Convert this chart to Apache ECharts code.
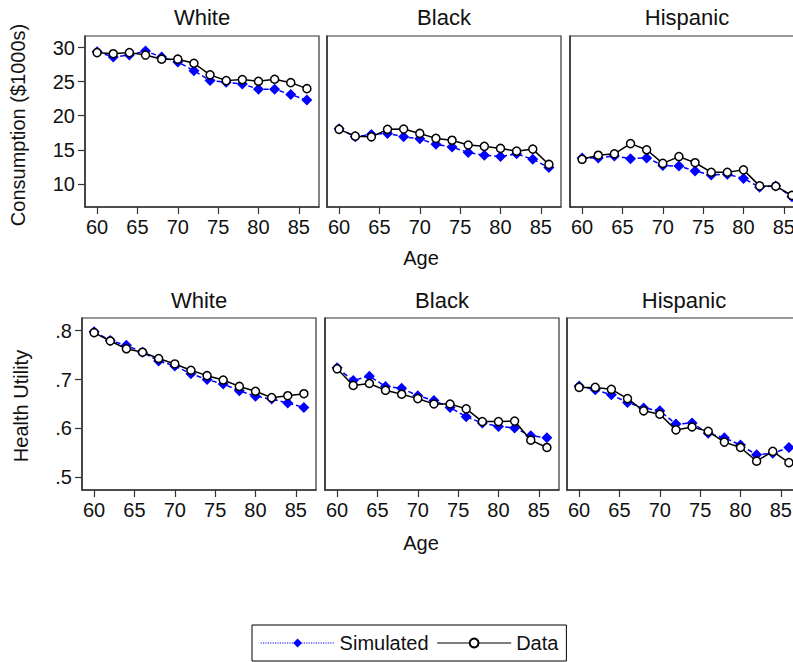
<!DOCTYPE html>
<html>
<head>
<meta charset="utf-8">
<script src="https://cdn.jsdelivr.net/npm/echarts@6/dist/echarts.min.js"></script>
<style>
html, body { margin: 0; padding: 0; background: #fff; }
#chart { width: 793px; height: 662px; }
</style>
</head>
<body>
<div id="chart"></div>
<script>
// ages on the x axis
var ages = [60, 62, 64, 66, 68, 70, 72, 74, 76, 78, 80, 82, 84, 86];
var xTicks = [60, 65, 70, 75, 80, 85];
var consTicks = [10, 15, 20, 25, 30];
var utilTicks = [0.5, 0.6, 0.7, 0.8];

// consumption ($1000s)
var whiteConsSim  = [29.4, 28.6, 28.9, 29.5, 28.6, 27.9, 26.6, 25.15, 24.9, 24.65, 23.9, 23.9, 23.1, 22.3];
var whiteConsData = [29.26, 29.1, 29.26, 28.9, 28.3, 28.3, 27.7, 26.0, 25.15, 25.3, 25.05, 25.35, 24.85, 23.97];
var blackConsSim  = [18.1, 16.9, 17.25, 17.4, 16.9, 16.6, 15.8, 15.4, 14.6, 14.2, 14.0, 14.4, 13.6, 12.4];
var blackConsData = [18.0, 17.0, 16.9, 18.0, 18.04, 17.4, 16.67, 16.4, 15.7, 15.5, 15.2, 14.8, 15.1, 12.85];
var hispConsSim   = [13.8, 13.8, 14.1, 13.7, 13.8, 12.7, 12.6, 11.9, 11.3, 11.4, 10.8, 9.5, 9.7, 8.1];
var hispConsData  = [13.6, 14.2, 14.4, 15.9, 15.0, 13.0, 14.0, 13.1, 11.7, 11.7, 12.05, 9.7, 9.65, 8.3];

// health utility
var whiteUtilSim  = [0.798, 0.780, 0.770, 0.756, 0.738, 0.728, 0.712, 0.700, 0.691, 0.677, 0.666, 0.660, 0.652, 0.643];
var whiteUtilData = [0.796, 0.779, 0.763, 0.756, 0.743, 0.732, 0.719, 0.708, 0.699, 0.686, 0.676, 0.663, 0.667, 0.671];
var blackUtilSim  = [0.724, 0.698, 0.707, 0.686, 0.682, 0.667, 0.657, 0.643, 0.624, 0.611, 0.604, 0.601, 0.585, 0.581];
var blackUtilData = [0.722, 0.688, 0.692, 0.678, 0.670, 0.661, 0.650, 0.650, 0.640, 0.614, 0.614, 0.615, 0.576, 0.561];
var hispUtilSim   = [0.687, 0.679, 0.669, 0.653, 0.642, 0.636, 0.609, 0.611, 0.590, 0.581, 0.566, 0.546, 0.549, 0.561];
var hispUtilData  = [0.684, 0.684, 0.680, 0.661, 0.636, 0.629, 0.597, 0.603, 0.594, 0.572, 0.561, 0.533, 0.553, 0.530];

var FONT = "'Liberation Sans', Arial, sans-serif";
var W = 793;

// panel boxes (pixels); the last column runs past the right edge
var panels = [
    { left: 85,  top: 36,  w: 234, h: 171, title: 'White',    sim: whiteConsSim, dat: whiteConsData, row: 0, first: true },
    { left: 327, top: 36,  w: 234, h: 171, title: 'Black',    sim: blackConsSim, dat: blackConsData, row: 0 },
    { left: 570, top: 36,  w: 234, h: 171, title: 'Hispanic', sim: hispConsSim,  dat: hispConsData,  row: 0 },
    { left: 82,  top: 318, w: 234, h: 172, title: 'White',    sim: whiteUtilSim, dat: whiteUtilData, row: 1, first: true },
    { left: 325, top: 318, w: 234, h: 172, title: 'Black',    sim: blackUtilSim, dat: blackUtilData, row: 1 },
    { left: 567, top: 318, w: 234, h: 172, title: 'Hispanic', sim: hispUtilSim,  dat: hispUtilData,  row: 1 }
];

function pairs(vals) {
    return ages.map(function (a, i) { return [a, vals[i]]; });
}

var grids = [], xAxes = [], yAxes = [], series = [], graphics = [];

panels.forEach(function (p, i) {
    grids.push({
        left: p.left, top: p.top, width: p.w, height: p.h,
        outerBoundsMode: 'none', containLabel: false,
        show: true, borderColor: '#333', borderWidth: 1.2, backgroundColor: '#fff'
    });
    xAxes.push({
        type: 'value', gridIndex: i, min: 58.5, max: 87.5,
        axisLine: { show: true, lineStyle: { color: '#333', width: 1.5 } },
        axisTick: { show: true, length: 7, customValues: xTicks, lineStyle: { color: '#333', width: 1.2 } },
        axisLabel: { show: true, customValues: xTicks, margin: 10, fontSize: 20, color: '#111', fontFamily: FONT },
        splitLine: { show: false }
    });
    var yTicks = p.row === 0 ? consTicks : utilTicks;
    yAxes.push({
        type: 'value', gridIndex: i,
        min: p.row === 0 ? 6.6 : 0.474,
        max: p.row === 0 ? 31.7 : 0.826,
        axisLine: { show: true, lineStyle: { color: '#333', width: 1.5 } },
        axisTick: { show: !!p.first, length: 7, customValues: yTicks, lineStyle: { color: '#333', width: 1.2 } },
        axisLabel: {
            show: !!p.first, customValues: yTicks, margin: 10, fontSize: 20, color: '#111', fontFamily: FONT,
            formatter: function (v) {
                return p.row === 0 ? String(v) : String(v.toFixed(1)).replace(/^0/, '');
            }
        },
        splitLine: { show: false }
    });
    series.push({
        name: 'Simulated', type: 'line', xAxisIndex: i, yAxisIndex: i,
        data: pairs(p.sim),
        symbol: 'diamond', symbolSize: 11,
        itemStyle: { color: '#0000ff' },
        lineStyle: { color: '#0000ff', width: 1.5, type: [5, 3] },
        z: 2
    });
    series.push({
        name: 'Data', type: 'line', xAxisIndex: i, yAxisIndex: i,
        data: pairs(p.dat),
        symbol: 'circle', symbolSize: 8,
        itemStyle: { color: '#fff', borderColor: '#000', borderWidth: 1.5 },
        lineStyle: { color: '#000', width: 1.5 },
        z: 3
    });
    // panel title
    graphics.push({
        type: 'text', x: p.left + p.w / 2, y: (p.row === 0 ? 17 : 300),
        style: { text: p.title, fontSize: 22, fill: '#111', fontFamily: FONT, align: 'center', verticalAlign: 'middle' }
    });
});

// axis titles
graphics.push({ type: 'text', x: 421, y: 258,
    style: { text: 'Age', fontSize: 20, fill: '#111', fontFamily: FONT, align: 'center', verticalAlign: 'middle' } });
graphics.push({ type: 'text', x: 421, y: 543,
    style: { text: 'Age', fontSize: 20, fill: '#111', fontFamily: FONT, align: 'center', verticalAlign: 'middle' } });
graphics.push({ type: 'text', x: 18, y: 125, rotation: Math.PI / 2,
    style: { text: 'Consumption ($1000s)', fontSize: 20, fill: '#111', fontFamily: FONT, align: 'center', verticalAlign: 'middle' } });
graphics.push({ type: 'text', x: 21, y: 406, rotation: Math.PI / 2,
    style: { text: 'Health Utility', fontSize: 20, fill: '#111', fontFamily: FONT, align: 'center', verticalAlign: 'middle' } });

var chart = echarts.init(document.getElementById('chart'), null, { renderer: 'svg' });
chart.setOption({
    animation: false,
    backgroundColor: '#fff',
    grid: grids,
    xAxis: xAxes,
    yAxis: yAxes,
    series: series,
    graphic: graphics,
    legend: {
        left: 252, top: 625,
        padding: [8, 8, 8, 8],
        borderColor: '#000', borderWidth: 1,
        itemWidth: 74, itemHeight: 11, itemGap: 8,
        textStyle: { fontSize: 20, color: '#111', fontFamily: FONT },
        data: [
            { name: 'Simulated', lineStyle: { type: 'dotted', width: 1.2 } },
            { name: 'Data', lineStyle: { width: 1.2 } }
        ]
    }
});
</script>
</body>
</html>
